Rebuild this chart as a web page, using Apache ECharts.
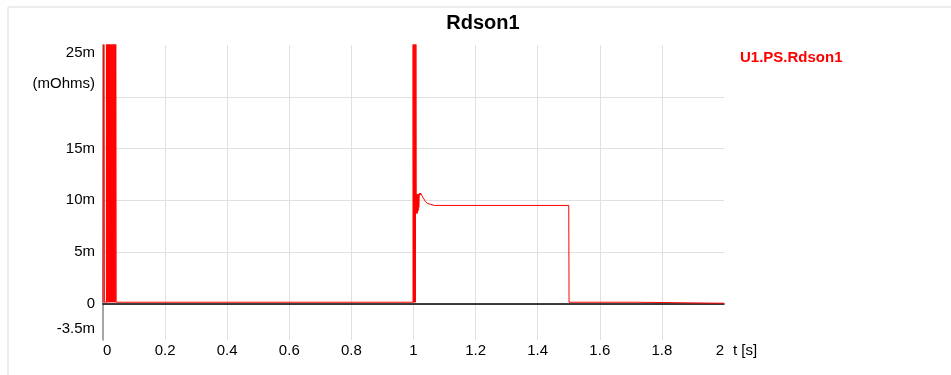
<!DOCTYPE html>
<html>
<head>
<meta charset="utf-8">
<script src="https://cdn.jsdelivr.net/npm/echarts@6/dist/echarts.min.js"></script>
<style>html,body{margin:0;padding:0;background:#fff;}#c{width:951px;height:375px;}</style>
</head>
<body>
<div id="c"></div>
<script>
// Rdson1 (mOhms) vs time (s)
const startTimes = [0, 0.003, 0.003, 0.0045, 0.0045,
  0.011, 0.011, 0.0125, 0.0125, 0.014, 0.014, 0.0155, 0.0155, 0.017, 0.017, 0.0185, 0.0185,
  0.020, 0.020, 0.0215, 0.0215, 0.023, 0.023, 0.0245, 0.0245, 0.026, 0.026, 0.0275, 0.0275,
  0.029, 0.029, 0.0305, 0.0305, 0.032, 0.032, 0.0335, 0.0335, 0.035, 0.035, 0.0365, 0.0365,
  0.038, 0.038, 0.0395, 0.0395, 0.041, 0.041, 0.0425, 0.0425, 0.044];
const startValues = [0.15, 0.15, 40, 40, 0.15,
  0.15, 40, 40, 0.15, 0.15, 40, 40, 0.15, 0.15, 40, 40, 0.15,
  0.15, 40, 40, 0.15, 0.15, 40, 40, 0.15, 0.15, 40, 40, 0.15,
  0.15, 40, 40, 0.15, 0.15, 40, 40, 0.15, 0.15, 40, 40, 0.15,
  0.15, 40, 40, 0.15, 0.15, 40, 40, 0.15, 0.15];
const switchTimes = [0.9985, 0.9985, 1.000, 1.000, 1.0015, 1.0015, 1.003, 1.003, 1.0045, 1.0045,
  1.006, 1.006, 1.0075, 1.0075, 1.009, 1.009,
  1.010, 1.011, 1.012, 1.013, 1.014, 1.015, 1.016, 1.017, 1.019, 1.021, 1.023, 1.026, 1.029,
  1.032, 1.035, 1.038, 1.041, 1.045, 1.050, 1.056, 1.062, 1.068];
const switchValues = [0.15, 40, 40, 0.15, 0.15, 40, 40, 0.15, 0.15, 40,
  40, 0.15, 0.15, 40, 40, 8.8,
  10.6, 8.7, 10.6, 8.8, 10.5, 9.0, 10.6, 9.3, 10.7, 10.5, 10.7, 10.5, 10.4,
  10.2, 10.1, 9.9, 9.8, 9.7, 9.65, 9.6, 9.55, 9.5];
const offTimes  = [1.500, 1.501, 1.714, 1.715, 2.0];
const offValues = [9.5, 0.15, 0.15, 0.05, 0.05];
const yLabelValues = [-3.5, 0, 5, 10, 15, 20, 25];
const yGridValues = [0, 5, 10, 15, 20];
const seriesName = 'U1.PS.Rdson1';

function pairs(ts, vs) { return ts.map((t, i) => [t, vs[i]]); }
const data = [].concat(pairs(startTimes, startValues), pairs(switchTimes, switchValues), pairs(offTimes, offValues));

const FONT = "'Liberation Sans', Arial, sans-serif";
const chart = echarts.init(document.getElementById('c'), null, {renderer: 'canvas'});
chart.setOption({
  animation: false,
  backgroundColor: '#fff',
  textStyle: {fontFamily: FONT},
  title: {
    text: 'Rdson1', left: 478, top: 8, textAlign: 'center',
    textStyle: {fontFamily: FONT, fontSize: 20, fontWeight: 'bold', color: '#000'}
  },
  legend: {
    left: 730, top: 45, icon: 'none', itemWidth: 0,
    data: [seriesName],
    textStyle: {fontFamily: FONT, fontSize: 15, fontWeight: 'bold', color: '#ff0000'}
  },
  graphic: [
    {type: 'line', shape: {x1: 8, y1: 7, x2: 951, y2: 7}, style: {stroke: '#dadada', lineWidth: 1}, silent: true},
    {type: 'line', shape: {x1: 8, y1: 7, x2: 8, y2: 375}, style: {stroke: '#dadada', lineWidth: 1}, silent: true}
  ],
  grid: {left: 103, right: 227, top: 45, bottom: 35, containLabel: false},
  xAxis: [{
    type: 'value', min: 0, max: 2, interval: 0.2,
    name: 't [s]', nameLocation: 'end', nameGap: 9,
    nameTextStyle: {fontFamily: FONT, fontSize: 15, color: '#000', verticalAlign: 'top', padding: [3, 0, 0, 0]},
    axisLine: {show: false, onZero: false},
    axisTick: {show: false},
    axisLabel: {fontFamily: FONT, fontSize: 15, color: '#000', margin: 3, alignMinLabel: 'left', alignMaxLabel: 'right',
      formatter: v => String(Math.round(v * 10) / 10)},
    splitLine: {show: true, showMinLine: false, showMaxLine: false, lineStyle: {color: '#e0e0e0', width: 1}}
  }, {
    type: 'value', min: 0, max: 2, position: 'bottom',
    axisLine: {show: true, onZero: true, lineStyle: {color: '#000', width: 1.5}},
    axisTick: {show: false}, axisLabel: {show: false}, splitLine: {show: false}
  }],
  yAxis: {
    type: 'value', min: -3.5, max: 25,
    axisLine: {show: true, onZero: false, lineStyle: {color: '#888', width: 1.5}},
    axisTick: {show: false, customValues: yGridValues},
    splitLine: {show: true, lineStyle: {color: '#e0e0e0', width: 1}},
    axisLabel: {
      customValues: yLabelValues, margin: 8,
      fontFamily: FONT, fontSize: 15, color: '#000',
      formatter: function (v) {
        if (v === 25) return '{dn|25m}';
        if (v === 20) return '{up|(mOhms)}';
        if (v === -3.5) return '{up2|-3.5m}';
        if (v === 0) return '0';
        return v + 'm';
      },
      rich: {
        dn: {fontFamily: FONT, fontSize: 15, color: '#000', padding: [16, 0, 0, 0]},
        up: {fontFamily: FONT, fontSize: 15, color: '#000', padding: [0, 0, 26, 0]},
        up2: {fontFamily: FONT, fontSize: 15, color: '#000', padding: [0, 0, 22, 0]}
      }
    }
  },
  series: [{
    name: seriesName, type: 'line', xAxisIndex: 0, yAxisIndex: 0,
    data: data, showSymbol: false, symbol: 'none', clip: true, z: 3,
    lineStyle: {color: '#ff0000', width: 1},
    itemStyle: {color: '#ff0000'}
  }]
});
</script>
</body>
</html>
